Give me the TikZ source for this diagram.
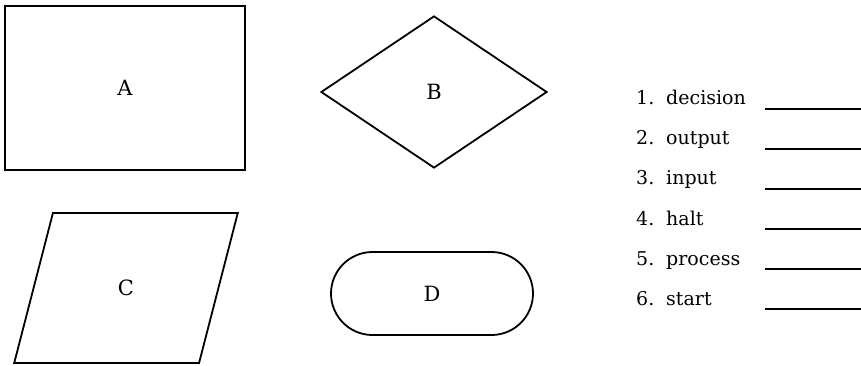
\documentclass[tikz,border=0pt]{standalone}
\usepackage{fontspec}
\setmainfont{DejaVu Serif}
\usetikzlibrary{shapes.geometric, shapes.misc}
\tikzset{
  symb/.style={draw, line width=1.8pt, inner sep=0pt, font=\fontsize{21}{24}\selectfont},
  item/.style={anchor=base west, inner sep=0pt, font=\fontsize{19}{22}\selectfont},
  blank/.style={line width=1.4pt}
}
\begin{document}
\begin{tikzpicture}[x=1pt, y=-1pt]
\useasboundingbox (0,0) rectangle (861,366);
% flowchart symbols
\node[symb, rectangle, minimum width=240pt, minimum height=164pt] (A) at (125,88) {A};
\node[symb, diamond, minimum width=226pt, minimum height=152pt] (B) at (434,92) {B};
\node[symb, trapezium, trapezium left angle=75, trapezium right angle=105, trapezium stretches=true, minimum width=224pt, minimum height=150pt] (C) at (126,288) {C};
\node[symb, rounded rectangle, minimum width=202pt, minimum height=83pt] (D) at (432,293.5) {D};
% matching list
\foreach \i/\word in {1/decision, 2/output, 3/input, 4/halt, 5/process, 6/start} {
  \node[item] (num\i) at (636,65+40*\i) {\i.};
  \node[item] (lab\i) at (666,65+40*\i) {\word};
  \coordinate (bl\i) at (765,69+40*\i);
  \coordinate (br\i) at (861,69+40*\i);
  \draw[blank] (bl\i) -- (br\i);
}
\end{tikzpicture}
\end{document}
